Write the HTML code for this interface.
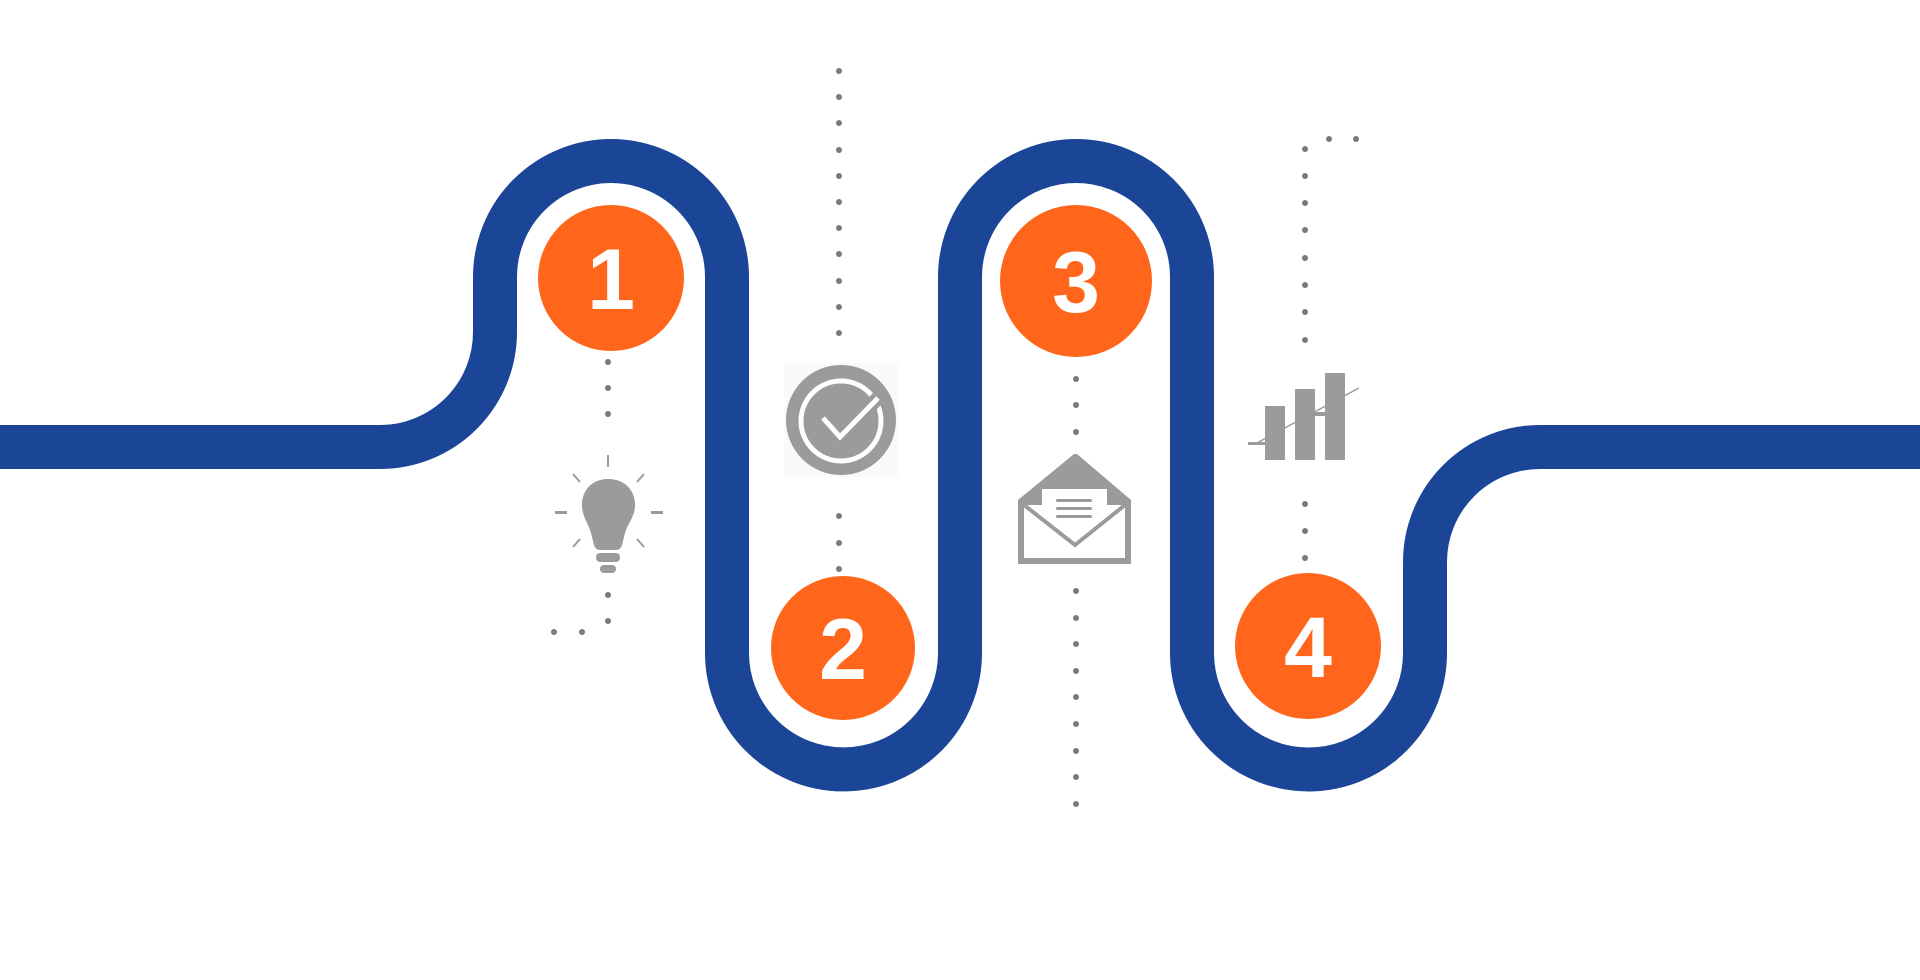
<!DOCTYPE html>
<html><head><meta charset="utf-8"><style>html,body{margin:0;padding:0;background:#fff;width:1920px;height:980px;overflow:hidden}</style></head>
<body>
<svg width="1920" height="980" viewBox="0 0 1920 980" xmlns="http://www.w3.org/2000/svg">
<path d="M0,447 H380 A115,115 0 0 0 495,332 V277 A116,116 0 0 1 727,277 V653 A116.5,116.5 0 0 0 960,653 V277 A116,116 0 0 1 1192,277 V653 A116.5,116.5 0 0 0 1425,653 V562 A115,115 0 0 1 1540,447 H1920" fill="none" stroke="#1b4597" stroke-width="44"/>
<g fill="#7a7a7a">
<!-- top dotted line above check -->
<circle cx="839" cy="71" r="3"/><circle cx="839" cy="97" r="3"/><circle cx="839" cy="123" r="3"/><circle cx="839" cy="150" r="3"/><circle cx="839" cy="176" r="3"/><circle cx="839" cy="202" r="3"/><circle cx="839" cy="228" r="3"/><circle cx="839" cy="254" r="3"/><circle cx="839" cy="281" r="3"/><circle cx="839" cy="307" r="3"/><circle cx="839" cy="333" r="3"/>
<circle cx="839" cy="516" r="3"/><circle cx="839" cy="543" r="3"/><circle cx="839" cy="569" r="3"/>
<!-- circle1 dots -->
<circle cx="608" cy="362" r="3"/><circle cx="608" cy="388" r="3"/><circle cx="608" cy="414" r="3"/>
<circle cx="608" cy="595" r="3"/><circle cx="608" cy="621" r="3"/><circle cx="582" cy="632" r="3"/><circle cx="554" cy="632" r="3"/>
<!-- circle3 dots -->
<circle cx="1076" cy="379" r="3"/><circle cx="1076" cy="405" r="3"/><circle cx="1076" cy="432" r="3"/>
<circle cx="1076" cy="591" r="3"/><circle cx="1076" cy="618" r="3"/><circle cx="1076" cy="644" r="3"/><circle cx="1076" cy="671" r="3"/><circle cx="1076" cy="697" r="3"/><circle cx="1076" cy="724" r="3"/><circle cx="1076" cy="751" r="3"/><circle cx="1076" cy="777" r="3"/><circle cx="1076" cy="804" r="3"/>
<!-- chart dots -->
<circle cx="1329" cy="139" r="3"/><circle cx="1356" cy="139" r="3"/>
<circle cx="1305" cy="149" r="3"/><circle cx="1305" cy="176" r="3"/><circle cx="1305" cy="203" r="3"/><circle cx="1305" cy="230" r="3"/><circle cx="1305" cy="258" r="3"/><circle cx="1305" cy="285" r="3"/><circle cx="1305" cy="312" r="3"/><circle cx="1305" cy="340" r="3"/>
<circle cx="1305" cy="504" r="3"/><circle cx="1305" cy="531" r="3"/><circle cx="1305" cy="558" r="3"/>
</g>
<g fill="#ff661b">
<circle cx="611" cy="278" r="73"/><circle cx="843" cy="648" r="72"/><circle cx="1076" cy="281" r="76"/><circle cx="1308" cy="646" r="73"/>
</g>
<g fill="#fff" font-family="Liberation Sans, sans-serif" font-weight="bold" font-size="86" text-anchor="middle">
<text x="611" y="309">1</text><text x="843" y="679">2</text><text x="1076" y="312">3</text><text x="1308" y="677">4</text>
</g>
<!-- check icon -->
<rect x="784" y="363" width="114" height="114" fill="#fafafa"/>
<circle cx="841" cy="420" r="55" fill="#9b9b9b"/>
<circle cx="841" cy="421" r="40" fill="none" stroke="#fff" stroke-width="5"/>
<circle cx="841" cy="421" r="33" fill="#9b9b9b"/>
<path d="M823,418 L840,437 L878,398" fill="none" stroke="#9b9b9b" stroke-width="14"/>
<path d="M823,418 L840,437 L878,398" fill="none" stroke="#fff" stroke-width="5"/>
<!-- bulb -->
<g fill="#9b9b9b" stroke="#9b9b9b">
<rect x="607" y="455" width="2" height="12" stroke="none"/>
<rect x="555" y="511" width="12" height="3" stroke="none"/><rect x="651" y="511" width="12" height="3" stroke="none"/>
<line x1="573" y1="474" x2="580" y2="482" stroke-width="2"/><line x1="644" y1="474" x2="637" y2="482" stroke-width="2"/>
<line x1="573" y1="547" x2="580" y2="539" stroke-width="2"/><line x1="644" y1="547" x2="637" y2="539" stroke-width="2"/>
<path d="M608,479 C590,479 581,493 582,507 C583,518 589,525 591,533 L594,545 C595,548 597,550 600,550 L616,550 C619,550 621,548 622,545 L625,533 C627,525 634,518 635,507 C636,493 627,479 608,479 Z" stroke="none"/>
<rect x="596" y="553" width="24" height="9" rx="4" stroke="none"/>
<rect x="600" y="565" width="16" height="8" rx="4" stroke="none"/>
</g>
<!-- envelope -->
<g>
<path d="M1018,500 L1074,454 L1077,454 L1131,500 L1131,564 L1018,564 Z" fill="#9b9b9b"/>
<rect x="1024" y="505" width="101" height="53" fill="#fff"/>
<path d="M1024,505 L1075,545 L1125,505" fill="none" stroke="#9b9b9b" stroke-width="4"/>
<path d="M1042,489 L1107,489 L1107,508 L1075,534 L1042,508 Z" fill="#fff"/>
<rect x="1056" y="499" width="36" height="3" rx="1.5" fill="#9b9b9b"/>
<rect x="1056" y="507" width="36" height="3" rx="1.5" fill="#9b9b9b"/>
<rect x="1056" y="515" width="36" height="3" rx="1.5" fill="#9b9b9b"/>
</g>
<!-- chart -->
<g fill="#9b9b9b">
<rect x="1248" y="442" width="18" height="3"/>
<rect x="1265" y="406" width="20" height="54"/>
<rect x="1295" y="389" width="20" height="71"/>
<rect x="1315" y="412" width="10" height="4"/>
<rect x="1325" y="373" width="20" height="87"/>
<line x1="1255" y1="444" x2="1359" y2="388" stroke="#9b9b9b" stroke-width="1.5"/>
</g>
</svg>
</body></html>
